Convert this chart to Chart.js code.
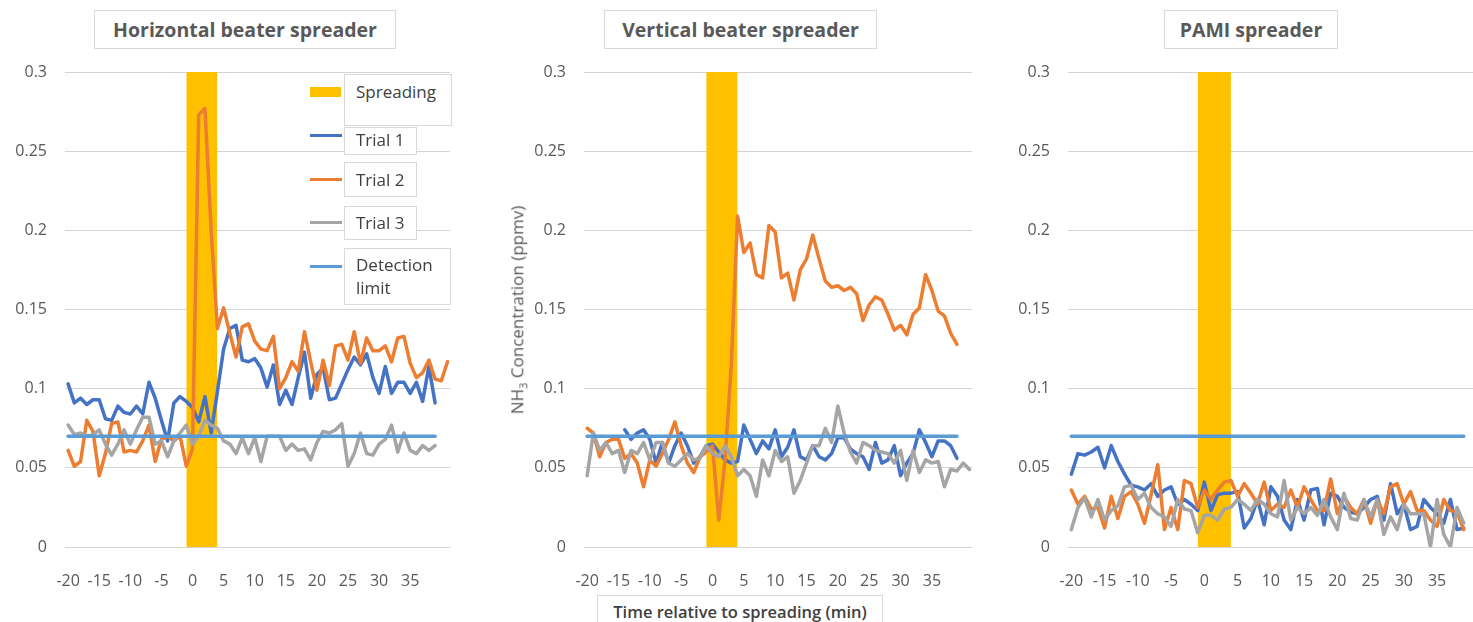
<!DOCTYPE html>
<html>
<head>
<meta charset="utf-8">
<script src="https://cdn.jsdelivr.net/npm/chart.js@4"></script>
<style>
  body { margin: 0; background: #fff; font-family: "Open Sans", sans-serif; }
  #wrap { position: relative; width: 1473px; height: 622px; overflow: hidden; }
  canvas { position: absolute; top: 0; }
  .box { position: absolute; border: 1px solid #d9d9d9; background: #fff; box-sizing: border-box; }
  .title { color: #595959; font-weight: 700; font-size: 19.5px; text-align: center; line-height: 37px; white-space: nowrap; }
  .leg { color: #404040; font-size: 17px; padding-left: 11px; white-space: nowrap; }
  .sw { position: absolute; }
  #ytitle { position: absolute; left: 518px; top: 310px; transform: translate(-50%, -50%) rotate(-90deg);
            white-space: nowrap; color: #595959; font-size: 17px; }
  #ytitle sub { font-size: 11px; }
  #xtitle { color: #404040; font-weight: 600; font-size: 16.5px; text-align: center; padding-top: 4px; white-space: nowrap; }
</style>
</head>
<body>
<div id="wrap">
  <canvas id="c1" width="452" height="622" style="left:0px"></canvas>
  <canvas id="c2" width="485" height="622" style="left:490px"></canvas>
  <canvas id="c3" width="493" height="622" style="left:980px"></canvas>

  <div class="box title" style="left:94px;top:10px;width:302px;height:39px">Horizontal beater spreader</div>
  <div class="box title" style="left:604px;top:10px;width:273px;height:39px">Vertical beater spreader</div>
  <div class="box title" style="left:1164px;top:10px;width:174px;height:39px">PAMI spreader</div>

  <div class="sw" style="left:310px;top:87px;width:31px;height:10px;background:#FFC000"></div>
  <div class="sw" style="left:310px;top:134px;width:32px;height:3px;background:#4472C4"></div>
  <div class="sw" style="left:310px;top:178px;width:32px;height:3px;background:#ED7D31"></div>
  <div class="sw" style="left:310px;top:221px;width:32px;height:3px;background:#A5A5A5"></div>
  <div class="sw" style="left:310px;top:265px;width:32px;height:3px;background:#5B9BD5"></div>
  <div class="box leg" style="left:344px;top:74px;width:108px;height:52px;padding-top:5px">Spreading</div>
  <div class="box leg" style="left:344px;top:127px;width:73px;height:28px;padding-top:0px">Trial 1</div>
  <div class="box leg" style="left:344px;top:162px;width:73px;height:35px;padding-top:5px">Trial 2</div>
  <div class="box leg" style="left:344px;top:206px;width:73px;height:34px;padding-top:4px">Trial 3</div>
  <div class="box leg" style="left:344px;top:248px;width:107px;height:57px;padding-top:4px;line-height:23px">Detection<br>limit</div>

  <div id="ytitle">NH<sub>3</sub> Concentration (ppmv)</div>
  <div class="box" id="xtitle" style="left:597px;top:595px;width:286px;height:40px">Time relative to spreading (min)</div>
</div>

<script>
// axis ticks
const xTicks = [-20, -15, -10, -5, 0, 5, 10, 15, 20, 25, 30, 35];
const yTicks = [0, 0.05, 0.1, 0.15, 0.2, 0.25, 0.3];

// spreading period (min) and detection limit (ppmv)
const spreadStart = -1, spreadEnd = 4, spreadTop = 0.3;
const detectionLimit = 0.07, limitStart = -20, limitEnd = 39;

// Horizontal beater spreader, one value per minute
const hTrial1Start = -20;
const hTrial1 = [0.103,0.091,0.094,0.090,0.093,0.093,0.081,0.080,0.089,0.085,0.084,0.089,0.084,0.104,0.094,0.080,0.067,0.091,0.095,0.092,
  0.088,0.079,0.095,0.072,0.098,
  0.125,0.138,0.140,0.118,0.117,0.119,0.113,0.101,0.115,0.090,
  0.099,0.090,0.107,0.123,0.094,0.109,0.113,0.093,0.094,0.103,
  0.112,0.120,0.115,0.122,0.107,0.097,0.114,0.097,0.104,0.104,
  0.097,0.104,0.092,0.114,0.091];
const hTrial2Start = -20;
const hTrial2 = [0.061,0.051,0.054,0.080,0.073,0.045,0.059,0.078,0.079,0.060,0.061,0.060,0.067,0.077,0.054,0.068,0.070,0.067,0.070,0.051,
  0.062,0.273,0.277,0.200,0.138,
  0.151,0.135,0.120,0.139,0.141,0.130,0.125,0.124,0.133,0.100,
  0.107,0.117,0.111,0.136,0.117,0.099,0.118,0.102,0.127,0.128,
  0.118,0.136,0.116,0.132,0.124,0.124,0.127,0.117,0.132,0.133,
  0.116,0.107,0.110,0.118,0.106,0.105,0.117];
const hTrial3Start = -20;
const hTrial3 = [0.077,0.071,0.072,0.070,0.071,0.074,0.065,0.058,0.065,0.074,0.065,0.074,0.082,0.082,0.065,0.067,0.057,0.067,0.072,0.077,
  0.065,0.070,0.080,0.077,0.075,
  0.067,0.065,0.059,0.069,0.059,0.069,0.054,0.070,0.070,0.070,
  0.061,0.065,0.061,0.062,0.055,0.066,0.073,0.072,0.074,0.078,
  0.051,0.059,0.072,0.059,0.058,0.065,0.068,0.077,0.060,0.072,
  0.061,0.059,0.064,0.061,0.064];

// Vertical beater spreader
const vTrial1Start = -14;
const vTrial1 = [0.074,0.068,0.072,0.074,0.068,0.053,0.066,0.053,0.064,0.072,0.064,0.053,0.057,0.064,
  0.065,0.060,0.055,0.053,0.054,0.077,0.068,0.059,0.067,0.062,
  0.074,0.057,0.063,0.074,0.057,0.055,0.064,0.057,0.055,0.059,
  0.069,0.069,0.062,0.059,0.057,0.049,0.066,0.053,0.055,0.064,
  0.045,0.053,0.059,0.074,0.066,0.057,0.067,0.067,0.064,0.056];
const vTrial2Start = -20;
const vTrial2 = [0.075,0.072,0.057,0.066,0.068,0.068,0.056,0.059,0.053,0.038,0.055,0.051,0.059,0.068,0.079,0.064,0.053,0.047,0.057,0.060,
  0.064,0.017,0.055,0.115,0.209,0.186,0.192,0.172,0.170,0.203,
  0.199,0.170,0.173,0.156,0.175,0.182,0.197,0.182,0.168,0.164,
  0.165,0.162,0.164,0.160,0.143,0.153,0.158,0.156,0.147,0.137,
  0.140,0.134,0.147,0.151,0.172,0.162,0.149,0.146,0.135,0.128];
const vTrial3Start = -20;
const vTrial3 = [0.045,0.072,0.061,0.066,0.059,0.061,0.047,0.061,0.059,0.066,0.055,0.066,0.066,0.053,0.051,0.055,0.059,0.055,0.056,0.064,
  0.059,0.057,0.064,0.057,0.045,0.049,0.045,0.032,0.055,0.045,
  0.061,0.054,0.057,0.034,0.042,0.053,0.064,0.064,0.075,0.066,
  0.089,0.072,0.060,0.053,0.066,0.064,0.061,0.060,0.059,0.053,
  0.061,0.042,0.061,0.047,0.055,0.053,0.054,0.038,0.049,0.048,
  0.053,0.049];

// PAMI spreader
const pTrial1Start = -20;
const pTrial1 = [0.046,0.059,0.058,0.060,0.063,0.050,0.064,0.054,0.046,0.039,
  0.038,0.036,0.040,0.032,0.036,0.038,0.027,0.030,0.027,0.023,
  0.041,0.023,0.033,0.034,0.034,0.035,0.012,0.018,0.030,0.014,
  0.038,0.032,0.017,0.011,0.030,0.017,0.036,0.037,0.014,0.034,
  0.032,0.025,0.022,0.021,0.025,0.030,0.032,0.017,0.040,0.021,
  0.027,0.011,0.013,0.030,0.025,0.021,0.015,0.030,0.011,0.012];
const pTrial2Start = -20;
const pTrial2 = [0.036,0.027,0.032,0.024,0.025,0.012,0.032,0.018,0.032,0.035,
  0.027,0.015,0.033,0.052,0.011,0.025,0.011,0.042,0.040,0.025,
  0.036,0.030,0.036,0.041,0.042,0.032,0.040,0.034,0.027,0.041,
  0.023,0.027,0.025,0.036,0.025,0.038,0.030,0.023,0.023,0.043,
  0.021,0.032,0.025,0.021,0.030,0.015,0.030,0.021,0.038,0.040,
  0.027,0.035,0.023,0.023,0.017,0.013,0.030,0.023,0.022,0.011];
const pTrial3Start = -20;
const pTrial3 = [0.011,0.025,0.031,0.019,0.030,0.017,0.023,0.026,0.038,0.039,
  0.030,0.034,0.025,0.021,0.019,0.013,0.030,0.024,0.023,0.009,
  0.020,0.020,0.017,0.024,0.025,0.030,0.027,0.023,0.030,0.027,
  0.021,0.019,0.042,0.017,0.025,0.021,0.025,0.020,0.030,0.019,
  0.011,0.034,0.018,0.017,0.030,0.019,0.030,0.008,0.019,0.011,
  0.027,0.021,0.021,0.021,0.000,0.030,0.008,0.000,0.025,0.015];

const toPoints = (values, start) => values.map((v, i) => ({ x: start + i, y: v }));

const lineSet = (label, color, data, order) => ({
  label, data, order,
  borderColor: color,
  borderWidth: 3.5,
  pointRadius: 0,
  tension: 0,
  borderJoinStyle: 'round',
  borderCapStyle: 'round',
  fill: false
});

function makePanel(id, yWidth, padRight, xMax, t1, t2, t3) {
  const ctx = document.getElementById(id).getContext('2d');
  new Chart(ctx, {
    type: 'line',
    data: {
      datasets: [
        {
          label: 'Spreading',
          data: [{ x: spreadStart, y: spreadTop }, { x: spreadEnd, y: spreadTop }],
          order: 5,
          borderWidth: 0,
          pointRadius: 0,
          backgroundColor: '#FFC000',
          fill: 'origin'
        },
        lineSet('Trial 1', '#4472C4', t1, 4),
        lineSet('Trial 2', '#ED7D31', t2, 3),
        lineSet('Trial 3', '#A5A5A5', t3, 2),
        lineSet('Detection limit', '#5B9BD5',
          [{ x: limitStart, y: detectionLimit }, { x: limitEnd, y: detectionLimit }], 1)
      ]
    },
    options: {
      responsive: false,
      animation: false,
      devicePixelRatio: 1,
      layout: { padding: { top: 72, bottom: 35, left: 0, right: padRight } },
      plugins: { legend: { display: false }, tooltip: { enabled: false } },
      scales: {
        x: {
          type: 'linear',
          min: -20.5,
          max: xMax,
          afterBuildTicks: s => { s.ticks = xTicks.map(v => ({ value: v })); },
          afterFit: s => { s.height = 40; },
          grid: { display: false },
          border: { display: false },
          ticks: { autoSkip: false, maxRotation: 0, padding: 17, color: '#595959',
                   font: { family: 'Open Sans', size: 16 }, callback: v => String(v) }
        },
        y: {
          min: 0,
          max: 0.3,
          afterBuildTicks: s => { s.ticks = yTicks.map(v => ({ value: v })); },
          afterFit: s => { s.width = yWidth; },
          grid: { color: '#d4d4d4', lineWidth: 1, drawTicks: false },
          border: { display: false },
          ticks: { padding: 18, color: '#595959', font: { family: 'Open Sans', size: 16 },
                   callback: v => String(+v.toFixed(2)) }
        }
      }
    }
  });
}

makePanel('c1', 65, 2, 41.4,
  toPoints(hTrial1, hTrial1Start), toPoints(hTrial2, hTrial2Start), toPoints(hTrial3, hTrial3Start));
makePanel('c2', 94, 3, 41.4,
  toPoints(vTrial1, vTrial1Start), toPoints(vTrial2, vTrial2Start), toPoints(vTrial3, vTrial3Start));
makePanel('c3', 88, 0, 40.4,
  toPoints(pTrial1, pTrial1Start), toPoints(pTrial2, pTrial2Start), toPoints(pTrial3, pTrial3Start));
</script>
</body>
</html>
